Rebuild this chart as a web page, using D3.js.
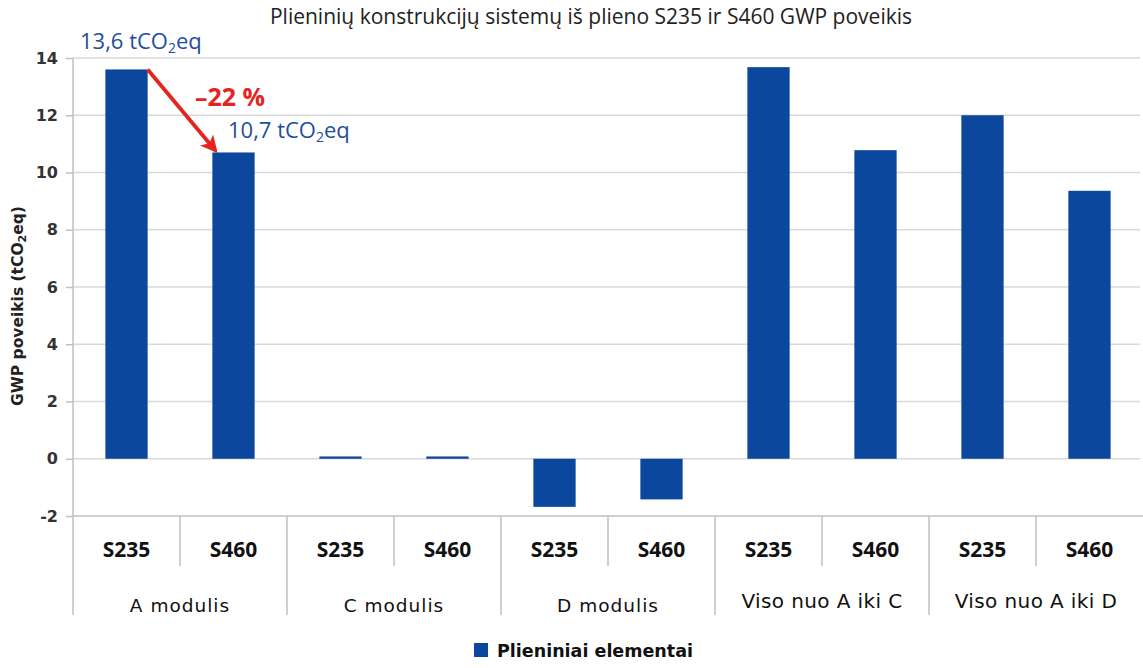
<!DOCTYPE html>
<html>
<head>
<meta charset="utf-8">
<script src="https://cdn.jsdelivr.net/npm/d3@7"></script>
<style>
  html, body { margin: 0; padding: 0; background: #fff; }
  svg { display: block; font-family: "Open Sans", "Noto Sans", sans-serif; }
  .wide { font-family: "DejaVu Sans", Verdana, sans-serif; }
</style>
</head>
<body>
<svg id="chart" width="1143" height="668"></svg>
<script>
// Module groups and the steel grades inside each
const groups = ["A modulis", "C modulis", "D modulis", "Viso nuo A iki C", "Viso nuo A iki D"];
const grades = ["S235", "S460"];
// GWP values (tCO2eq) per group, in grade order
const gwpS235 = [13.6, 0.08, -1.68, 13.68, 12.0];
const gwpS460 = [10.7, 0.08, -1.42, 10.78, 9.36];
const yTicks = [-2, 0, 2, 4, 6, 8, 10, 12, 14];
const reductionLabel = "–22 %";

const rows = [];
groups.forEach((g, i) => {
  grades.forEach((gr, j) => {
    rows.push({ group: g, grade: gr, value: (j === 0 ? gwpS235 : gwpS460)[i] });
  });
});
rows.forEach((r, i) => r.key = i);

const svg = d3.select("#chart");
const W = 1143, H = 668;
const m = { left: 73, right: 0, top: 58, bottom: 152 };
const plotBottom = H - m.bottom; // y of -2

const x = d3.scaleBand().domain(rows.map(r => r.key)).range([m.left, W - m.right]).paddingInner(0).paddingOuter(0);
const y = d3.scaleLinear().domain([-2, 14]).range([plotBottom, m.top]);
const barW = x.bandwidth() * 0.395;
const blue = "#0a479d";

// Title
svg.append("text").attr("x", 591).attr("y", 24).attr("text-anchor", "middle")
  .style("font-size", "21px").style("fill", "#222")
  .text("Plieninių konstrukcijų sistemų iš plieno S235 ir S460 GWP poveikis");

// Gridlines
svg.append("g").selectAll("line").data(yTicks.filter(t => t !== -2)).join("line")
  .attr("x1", m.left).attr("x2", W - 3).attr("y1", d => y(d)).attr("y2", d => y(d))
  .attr("stroke", "#d9d9d9").attr("stroke-width", 1.5);

// Y axis (plain hyphen for negatives)
const yAxis = d3.axisLeft(y).tickValues(yTicks).tickSize(7).tickPadding(8).tickFormat(d => String(d));
const gy = svg.append("g").attr("transform", `translate(${m.left},0)`).call(yAxis);
gy.select(".domain").remove();
gy.selectAll(".tick line").attr("stroke", "#bfbfbf").attr("stroke-width", 1.5);
gy.selectAll(".tick text").attr("class", "wide").style("font-size", "16px").style("font-weight", "bold")
  .style("fill", "#333");
svg.append("line").attr("x1", m.left).attr("x2", m.left).attr("y1", m.top).attr("y2", 615)
  .attr("stroke", "#bfbfbf").attr("stroke-width", 1.5);

// Y title
svg.append("text").attr("class", "wide").attr("transform", `translate(23,${(y(14) + y(-2)) / 2 + 19}) rotate(-90)`)
  .attr("text-anchor", "middle").style("font-size", "15.5px").style("font-weight", "bold").style("fill", "#222")
  .html('GWP poveikis (tCO<tspan baseline-shift="-25%" font-size="11px">2</tspan>eq)');

// Bars
svg.append("g").selectAll("rect").data(rows).join("rect")
  .attr("x", d => x(d.key) + (x.bandwidth() - barW) / 2)
  .attr("width", barW)
  .attr("y", d => y(Math.max(0, d.value)))
  .attr("height", d => Math.abs(y(d.value) - y(0)))
  .attr("fill", blue);

// Category axis line at the bottom of the plot
svg.append("line").attr("x1", m.left).attr("x2", W).attr("y1", plotBottom).attr("y2", plotBottom)
  .attr("stroke", "#bfbfbf").attr("stroke-width", 1.5);

// Dividers: short between grades, long between groups
rows.forEach((r, i) => {
  if (i === 0) return;
  const xx = x(r.key);
  const long = i % 2 === 0;
  svg.append("line").attr("x1", xx).attr("x2", xx).attr("y1", plotBottom).attr("y2", long ? 615 : 566)
    .attr("stroke", "#bfbfbf").attr("stroke-width", 1.5);
});

// Grade labels
svg.append("g").selectAll("text").data(rows).join("text")
  .attr("x", d => x(d.key) + x.bandwidth() / 2).attr("y", 557)
  .attr("text-anchor", "middle").style("font-size", "21px").style("font-weight", "bold").style("fill", "#111")
  .text(d => d.grade);

// Group labels
svg.append("g").selectAll("text").data(groups).join("text").attr("class", "wide")
  .attr("x", (d, i) => (x(i * 2) + x(i * 2 + 1) + x.bandwidth()) / 2)
  .attr("y", (d, i) => i >= 3 ? 608 : 612)
  .attr("text-anchor", "middle")
  .style("font-size", (d, i) => i >= 3 ? "20px" : "18.5px")
  .style("letter-spacing", (d, i) => i >= 3 ? "0.4px" : "1px")
  .style("fill", "#111")
  .text(d => d);

// Value annotations for module A
const a235 = rows[0], a460 = rows[1];
const fmt = v => d3.format(".1f")(v).replace(".", ",");
svg.append("text").attr("x", x(a235.key) + 7).attr("y", y(a235.value) - 20)
  .style("font-size", "22px").style("fill", "#1f4e9c")
  .html(`${fmt(a235.value)} tCO<tspan baseline-shift="-25%" font-size="14px">2</tspan><tspan baseline-shift="0%">eq</tspan>`);
svg.append("text").attr("x", x(a460.key) + 48).attr("y", y(a460.value) - 14)
  .style("font-size", "22px").style("fill", "#1f4e9c")
  .html(`${fmt(a460.value)} tCO<tspan baseline-shift="-25%" font-size="14px">2</tspan><tspan baseline-shift="0%">eq</tspan>`);

// Reduction arrow
const red = "#e5231f";
svg.append("defs").append("marker").attr("id", "arrowHead").attr("viewBox", "0 0 10 10")
  .attr("refX", 8).attr("refY", 5).attr("markerWidth", 4.5).attr("markerHeight", 4.5)
  .attr("markerUnits", "strokeWidth").attr("orient", "auto")
  .append("path").attr("d", "M0,0 L10,5 L0,10 L2.5,5 Z").attr("fill", red);
const ax1 = x(a235.key) + (x.bandwidth() + barW) / 2, ay1 = y(a235.value);
const ax2 = x(a460.key) + (x.bandwidth() - barW) / 2 + 3, ay2 = y(a460.value) - 2;
svg.append("line").attr("x1", ax1).attr("y1", ay1).attr("x2", ax2).attr("y2", ay2)
  .attr("stroke", red).attr("stroke-width", 3.8).attr("marker-end", "url(#arrowHead)");
svg.append("text").attr("x", 195).attr("y", 106)
  .style("font-size", "25px").style("font-weight", "bold").style("fill", red)
  .text(reductionLabel);

// Legend
svg.append("rect").attr("x", 474).attr("y", 643).attr("width", 14).attr("height", 14).attr("fill", blue);
svg.append("text").attr("class", "wide").attr("x", 497).attr("y", 657).style("font-size", "17.5px").style("font-weight", "bold")
  .style("fill", "#111").text("Plieniniai elementai");
</script>
</body>
</html>
